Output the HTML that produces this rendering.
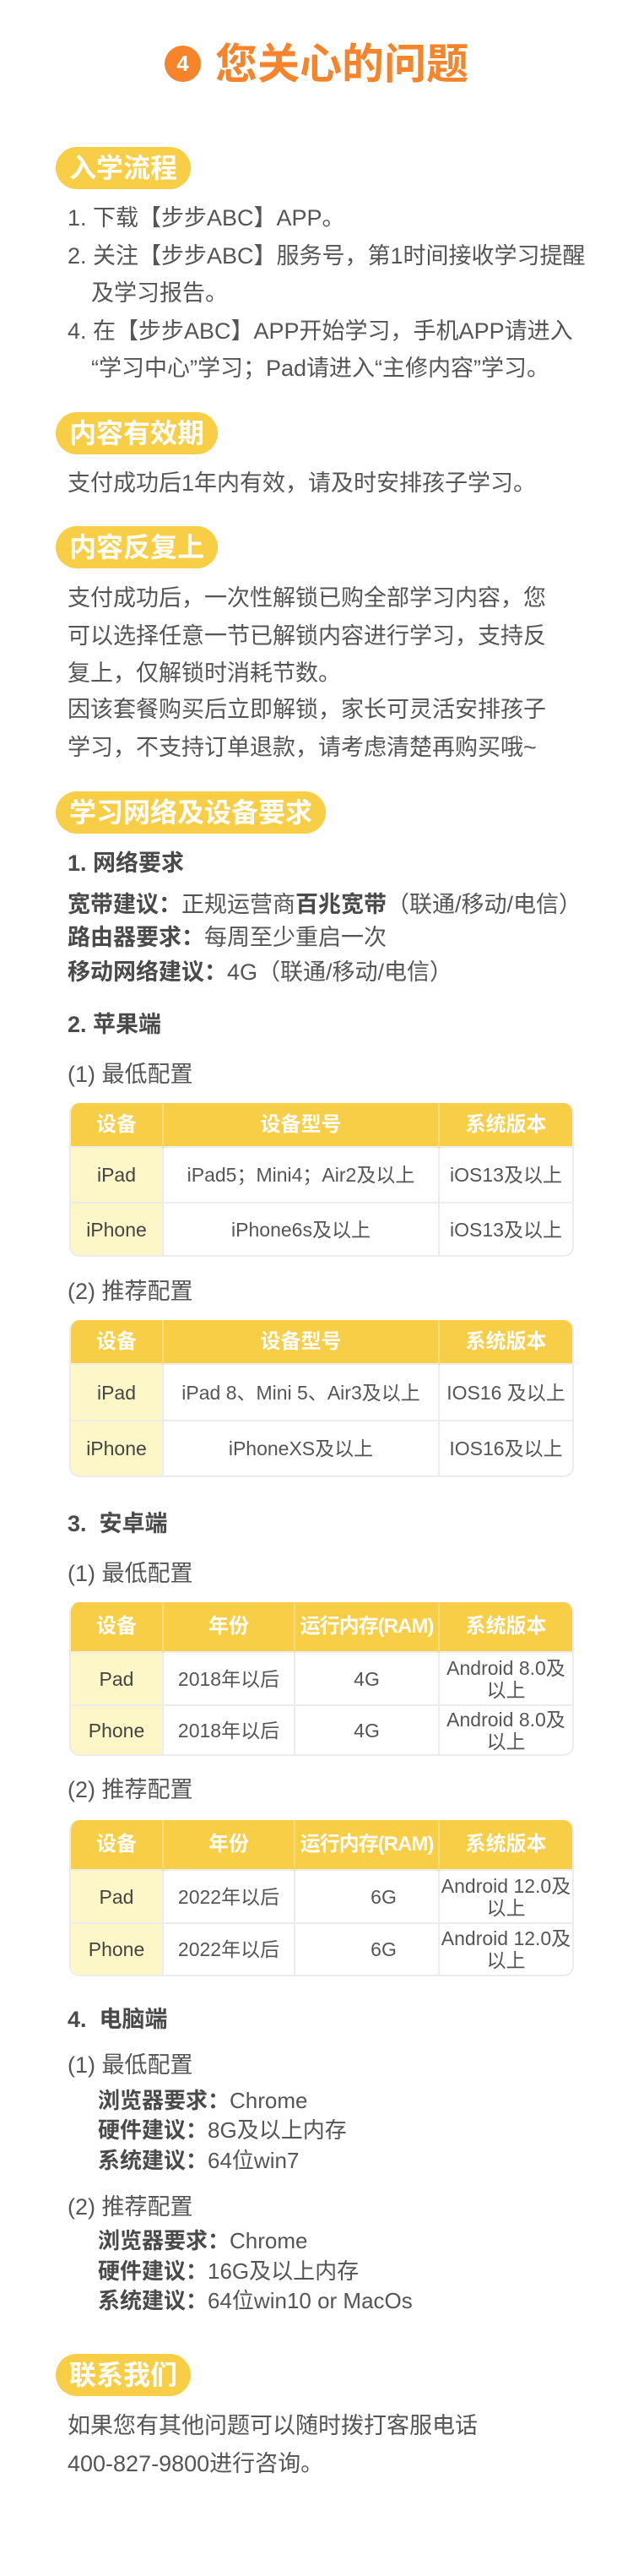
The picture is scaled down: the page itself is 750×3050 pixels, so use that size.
<!DOCTYPE html>
<html><head><meta charset="utf-8">
<style>
*{margin:0;padding:0;box-sizing:border-box}
body{width:750px;height:3050px;background:#fff;position:relative;overflow:hidden;font-family:"Liberation Sans","Noto Sans CJK SC",sans-serif;color:#555}
.a{position:absolute;white-space:nowrap}
.t{font-size:27px;line-height:44px;left:80px}
.pill{position:absolute;left:66px;height:50px;border-radius:25px;background:#f7ce46;color:#fff;font-weight:bold;font-size:32px;line-height:50px;padding:0 16px}
.h{font-weight:bold;font-size:27px;color:#4a4a4a}
b{color:#4a4a4a}
.tbl{position:absolute;left:82px;width:598px;border-radius:12px;overflow:hidden;border:2px solid #ececec;border-top:none}
.tbl table{border-collapse:collapse;width:100%;table-layout:fixed}
.tbl td{text-align:center;vertical-align:middle;font-size:23px;color:#555;border-left:2px solid #ececec;border-top:2px solid #ececec;line-height:26px}
.tbl tr td:first-child{border-left:none;background:#fdf6c6;color:#444}
.tbl tr.hd td{background:#f7ce46;color:#fff;font-weight:bold;font-size:24px;border-top:none;border-left:2px solid #f9dc7a}
.tbl tr.hd td:first-child{border-left:none;background:#f7ce46;color:#fff}
</style></head><body>

<div class="a" style="left:195px;top:54px;width:43px;height:43px;border-radius:50%;background:#f7832a;color:#fff;font-weight:bold;font-size:26px;line-height:43px;text-align:center">4</div>
<div class="a" style="left:255px;top:48px;font-size:50px;line-height:56px;font-weight:bold;color:#f7832a">您关心的问题</div>

<div class="pill" style="top:174px">入学流程</div>
<div class="a t" style="top:236px">1. 下载【步步ABC】APP。</div>
<div class="a t" style="top:281px">2. 关注【步步ABC】服务号，第1时间接收学习提醒</div>
<div class="a t" style="top:325px;left:108px">及学习报告。</div>
<div class="a t" style="top:370px">4. 在【步步ABC】APP开始学习，手机APP请进入</div>
<div class="a t" style="top:414px;left:108px">“学习中心”学习；Pad请进入“主修内容”学习。</div>

<div class="pill" style="top:488px">内容有效期</div>
<div class="a t" style="top:550px">支付成功后1年内有效，请及时安排孩子学习。</div>

<div class="pill" style="top:623px">内容反复上</div>
<div class="a t" style="top:686px">支付成功后，一次性解锁已购全部学习内容，您</div>
<div class="a t" style="top:731px">可以选择任意一节已解锁内容进行学习，支持反</div>
<div class="a t" style="top:775px">复上，仅解锁时消耗节数。</div>
<div class="a t" style="top:818px">因该套餐购买后立即解锁，家长可灵活安排孩子</div>
<div class="a t" style="top:863px">学习，不支持订单退款，请考虑清楚再购买哦~</div>

<div class="pill" style="top:937px">学习网络及设备要求</div>
<div class="a t h" style="top:1000px">1. 网络要求</div>
<div class="a t" style="top:1049px"><b>宽带建议：</b>正规运营商<b>百兆宽带</b>（联通/移动/电信）</div>
<div class="a t" style="top:1088px"><b>路由器要求：</b>每周至少重启一次</div>
<div class="a t" style="top:1129px"><b>移动网络建议：</b>4G（联通/移动/电信）</div>
<div class="a t h" style="top:1191px">2. 苹果端</div>
<div class="a t" style="top:1250px">(1) 最低配置</div>

<div class="tbl" style="top:1306px"><table>
<colgroup><col style="width:109px"><col style="width:327px"><col></colgroup>
<tr class="hd" style="height:52px"><td>设备</td><td>设备型号</td><td>系统版本</td></tr>
<tr style="height:66px"><td>iPad</td><td>iPad5；Mini4；Air2及以上</td><td>iOS13及以上</td></tr>
<tr style="height:62px"><td>iPhone</td><td>iPhone6s及以上</td><td>iOS13及以上</td></tr>
</table></div>

<div class="a t" style="top:1507px">(2) 推荐配置</div>
<div class="tbl" style="top:1563px"><table>
<colgroup><col style="width:109px"><col style="width:327px"><col></colgroup>
<tr class="hd" style="height:52px"><td>设备</td><td>设备型号</td><td>系统版本</td></tr>
<tr style="height:67px"><td>iPad</td><td>iPad 8、Mini 5、Air3及以上</td><td>IOS16 及以上</td></tr>
<tr style="height:65px"><td>iPhone</td><td>iPhoneXS及以上</td><td>IOS16及以上</td></tr>
</table></div>

<div class="a t h" style="top:1782px">3.&nbsp; 安卓端</div>
<div class="a t" style="top:1841px">(1) 最低配置</div>
<div class="tbl" style="top:1897px"><table>
<colgroup><col style="width:109px"><col style="width:156px"><col style="width:171px"><col></colgroup>
<tr class="hd" style="height:59px"><td>设备</td><td>年份</td><td style="letter-spacing:-1px">运行内存(RAM)</td><td>系统版本</td></tr>
<tr style="height:63px"><td>Pad</td><td>2018年以后</td><td>4G</td><td>Android 8.0及<br>以上</td></tr>
<tr style="height:58px"><td>Phone</td><td>2018年以后</td><td>4G</td><td>Android 8.0及<br>以上</td></tr>
</table></div>

<div class="a t" style="top:2097px">(2) 推荐配置</div>
<div class="tbl" style="top:2155px"><table>
<colgroup><col style="width:109px"><col style="width:156px"><col style="width:171px"><col></colgroup>
<tr class="hd" style="height:59px"><td>设备</td><td>年份</td><td style="letter-spacing:-1px">运行内存(RAM)</td><td>系统版本</td></tr>
<tr style="height:63px"><td>Pad</td><td>2022年以后</td><td style="padding-left:40px">6G</td><td>Android 12.0及<br>以上</td></tr>
<tr style="height:61px"><td>Phone</td><td>2022年以后</td><td style="padding-left:40px">6G</td><td>Android 12.0及<br>以上</td></tr>
</table></div>

<div class="a t h" style="top:2369px">4.&nbsp; 电脑端</div>
<div class="a t" style="top:2423px">(1) 最低配置</div>
<div class="a t" style="top:2465px;left:116px;font-size:26px"><b>浏览器要求：</b>Chrome</div>
<div class="a t" style="top:2500px;left:116px;font-size:26px"><b>硬件建议：</b>8G及以上内存</div>
<div class="a t" style="top:2536px;left:116px;font-size:26px"><b>系统建议：</b>64位win7</div>

<div class="a t" style="top:2591px">(2) 推荐配置</div>
<div class="a t" style="top:2631px;left:116px;font-size:26px"><b>浏览器要求：</b>Chrome</div>
<div class="a t" style="top:2667px;left:116px;font-size:26px"><b>硬件建议：</b>16G及以上内存</div>
<div class="a t" style="top:2702px;left:116px;font-size:26px"><b>系统建议：</b>64位win10 or MacOs</div>

<div class="pill" style="top:2787px">联系我们</div>
<div class="a t" style="top:2850px">如果您有其他问题可以随时拨打客服电话</div>
<div class="a t" style="top:2895px">400-827-9800进行咨询。</div>

</body></html>
